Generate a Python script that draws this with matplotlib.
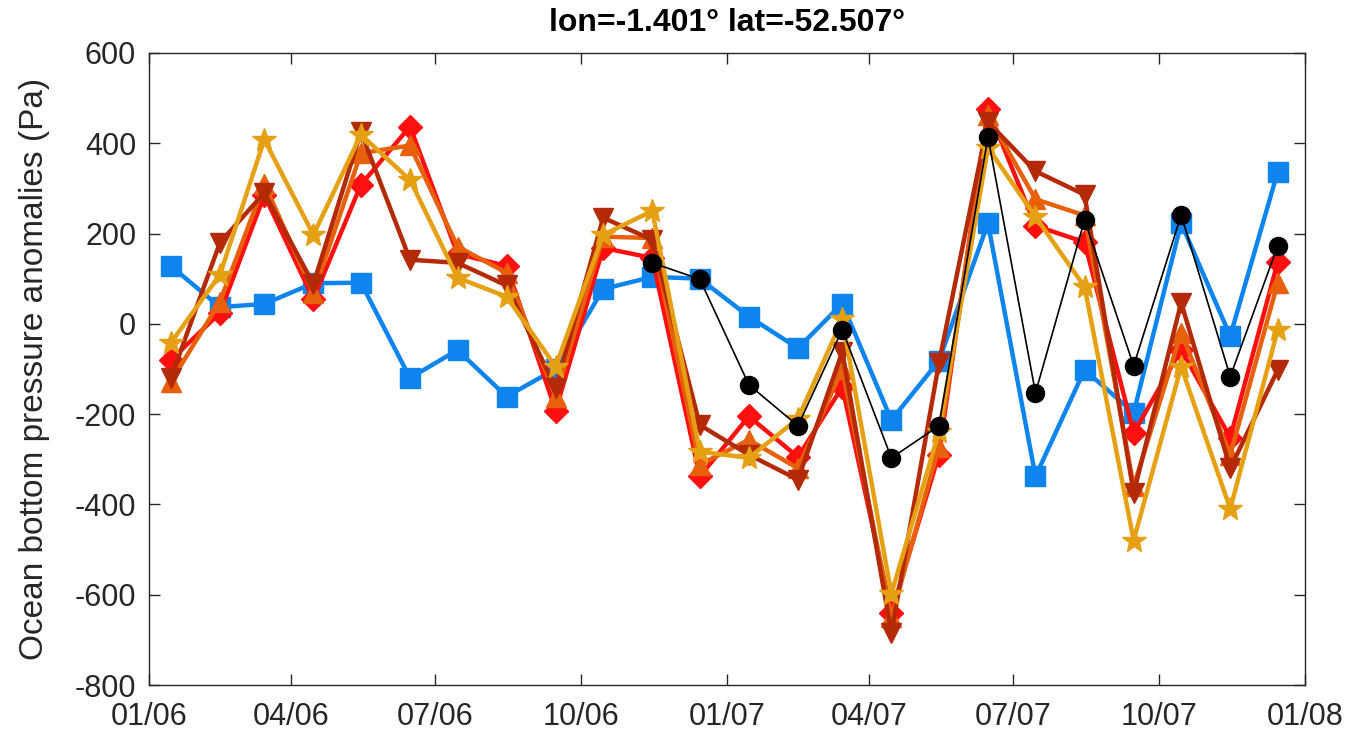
import numpy as np
import pandas as pd
import matplotlib
matplotlib.use('Agg')
import matplotlib.pyplot as plt
import matplotlib.dates as mdates

plt.rcParams['font.family'] = ['Liberation Sans', 'DejaVu Sans']
plt.rcParams['axes.unicode_minus'] = False

# monthly values, mid-month, Jan 2006 - Dec 2007 (Pa)
months = pd.date_range('2006-01-01', periods=24, freq='MS') + pd.Timedelta(days=14)

obp_blue = [128, 37, 44, 90, 91, -120, -58, -161, -100, 77, 104, 100,
            16, -54, 45, -213, -82, 223, -338, -102, -197, 223, -27, 337]
obp_red = [-80, 24, 285, 55, 308, 437, 155, 128, -192, 168, 146, -338,
           -205, -295, -140, -640, -290, 476, 217, 181, -242, -57, -252, 137]
obp_orange = [-128, 49, 310, 68, 378, 395, 171, 113, -161, 193, 190, -312,
              -257, -320, -100, -650, -272, 462, 276, 240, -360, -20, -290, 91]
obp_darkred = [-120, 180, 290, 88, 425, 142, 135, 85, -142, 235, 186, -224,
               -290, -345, -62, -685, -87, 447, 338, 286, -375, 47, -320, -102]
obp_gold = [-42, 109, 408, 197, 419, 319, 102, 60, -95, 197, 250, -283,
            -297, -210, 10, -598, -240, 390, 237, 82, -480, -95, -410, -13]
obp_black = [135, 99, -135, -226, -13, -297, -226, 414, -153, 230, -93, 241, -117, 173]
black_months = months[10:]

fig = plt.figure(figsize=(13.52, 7.35), dpi=100)
ax = fig.add_axes([0.110, 0.068, 0.855, 0.860])

lw = 3.2
ax.plot(months, obp_blue, '-s', color='#0d84ee', lw=lw, ms=15)
ax.plot(months, obp_red, '-D', color='#ff1010', lw=lw, ms=12)
ax.plot(months, obp_orange, '-^', color='#e8600c', lw=lw, ms=15)
ax.plot(months, obp_darkred, '-v', color='#b52a06', lw=lw, ms=15)
ax.plot(months, obp_gold, '-*', color='#e6a014', lw=lw, ms=18)
ax.plot(black_months, obp_black, '-o', color='black', lw=1.2, ms=13)

ax.set_xlim(pd.Timestamp('2006-01-01'), pd.Timestamp('2008-01-01'))
ax.set_ylim(-800, 600)
ax.set_yticks(np.arange(-800, 601, 200))
ax.xaxis.set_major_locator(mdates.MonthLocator(bymonth=[1, 4, 7, 10]))
ax.xaxis.set_major_formatter(mdates.DateFormatter('%m/%y'))

ax.tick_params(direction='in', length=8, width=1, top=True, right=True,
               labelsize=22, colors='#262626')
ax.tick_params(axis='x', pad=12)
ax.tick_params(axis='y', pad=9)
for s in ax.spines.values():
    s.set_color('#262626')
    s.set_linewidth(1)

ax.set_ylabel('Ocean bottom pressure anomalies (Pa)', fontsize=24,
              color='#262626', labelpad=18)
ax.set_title('lon=-1.401° lat=-52.507°', fontsize=23, fontweight='bold', pad=16)

fig.savefig('out.png', dpi=100)
